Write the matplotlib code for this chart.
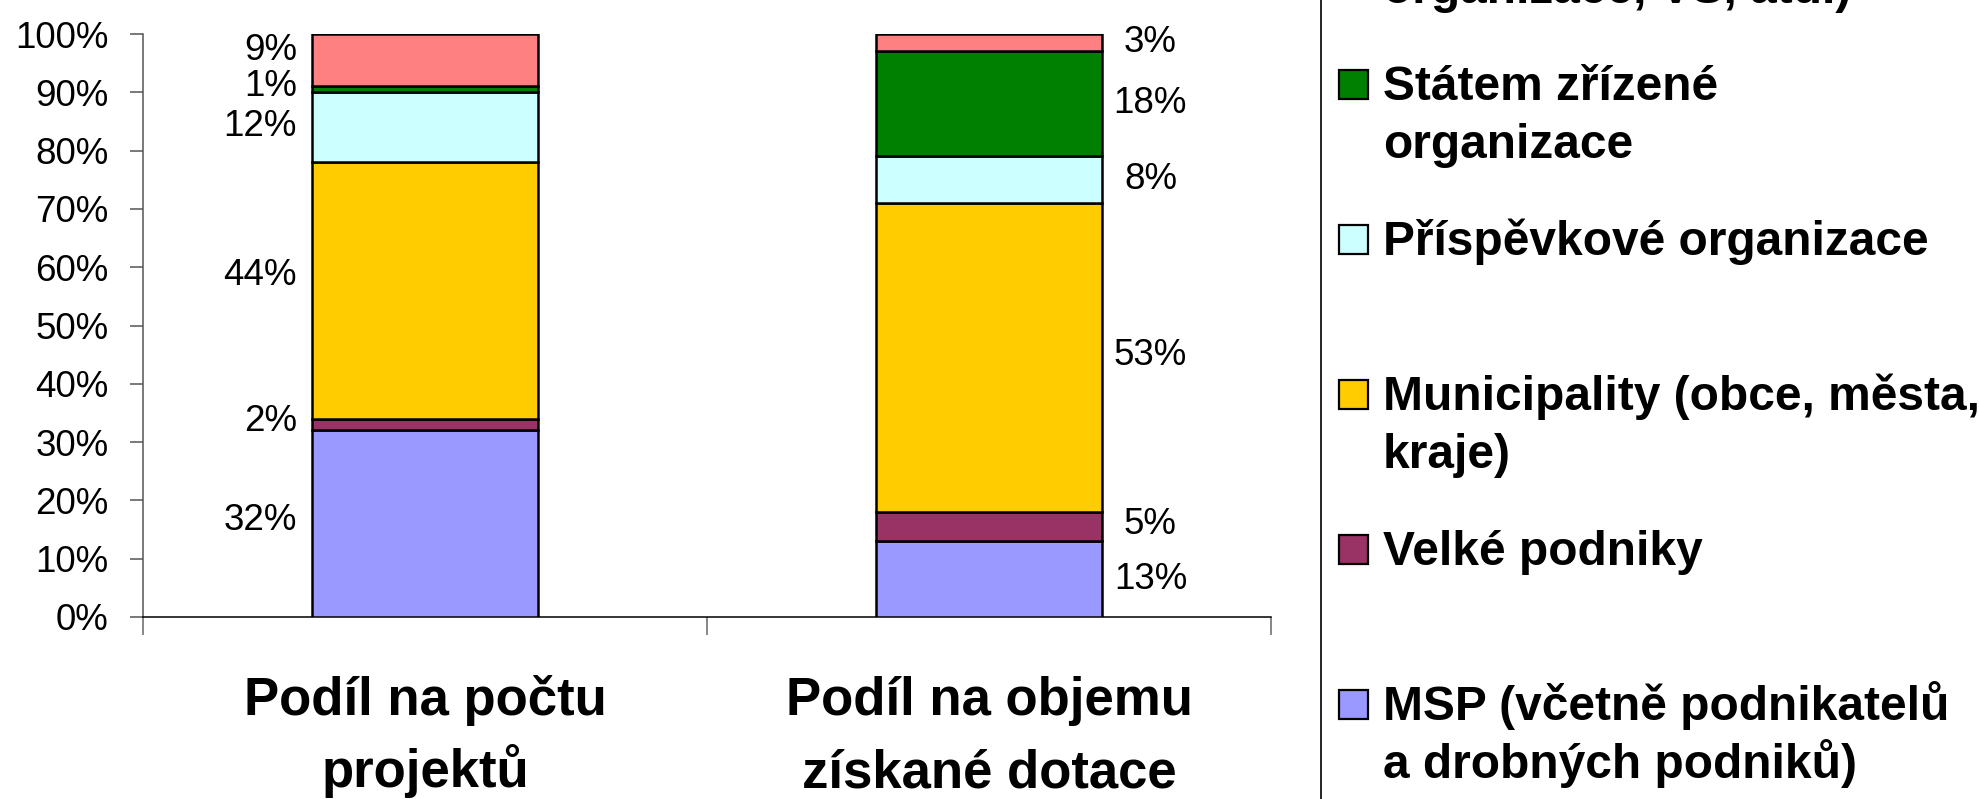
import matplotlib
matplotlib.use("Agg")
import matplotlib.pyplot as plt
from matplotlib.patches import Rectangle

plt.rcParams['font.family'] = ['Liberation Sans', 'DejaVu Sans']

# data
categories = ["Podíl na počtu\nprojektů", "Podíl na objemu\nzískané dotace"]
series_names = ["MSP (včetně podnikatelů\na drobných podniků)",
                "Velké podniky",
                "Municipality (obce, města,\nkraje)",
                "Příspěvkové organizace",
                "Státem zřízené\norganizace",
                "Ostatní (neziskové\norganizace, VŠ, atd.)"]
msp = [32, 13]
velke = [2, 5]
municipality = [44, 53]
prispevkove = [12, 8]
statem = [1, 18]
ostatni = [9, 3]
values = [msp, velke, municipality, prispevkove, statem, ostatni]
colors = ["#9999FF", "#993366", "#FFCC00", "#CCFFFF", "#008000", "#FF8080"]
# small vertical nudges for labels (in % points), per bar
label_nudge = [[0.5, 0.5, 2.5, 0.2, 0.5, 1.6],
               [0.0, 0.3, 0.4, 0.1, 0.1, 0.1]]

W, H = 1979, 799
fig = plt.figure(figsize=(W / 100, H / 100), dpi=100)
ax = fig.add_axes([143 / W, 1 - 617 / H, (1271 - 143) / W, (617 - 34) / H])

x = [0, 1]
bw = 0.40
bottoms = [0, 0]
for si, vals in enumerate(values):
    ax.bar(x, vals, bw, bottom=bottoms, color=colors[si], edgecolor='black',
           linewidth=1.8, zorder=3)
    for i in range(len(x)):
        yc = bottoms[i] + vals[i] / 2 + label_nudge[i][si]
        if i == 0:
            ax.annotate(f"{vals[i]}%", xy=(x[i] - bw / 2, yc), xytext=(-11, 0),
                        textcoords='offset points', ha='right', va='center',
                        fontsize=26.5)
        else:
            ax.annotate(f"{vals[i]}%", xy=(x[i] + bw / 2, yc), xytext=(35, 0),
                        textcoords='offset points', ha='center', va='center',
                        fontsize=26.5)
    bottoms = [b + v for b, v in zip(bottoms, vals)]

ax.set_xlim(-0.5, 1.5)
ax.set_ylim(0, 100)
ax.set_yticks(range(0, 101, 10))
ax.set_yticklabels([f"{v}%" for v in range(0, 101, 10)])
ax.tick_params(axis='y', direction='out', length=9.4, width=1.1, color='#555555',
               pad=15.5, labelsize=26.5)
ax.set_xticks([-0.5, 0.5, 1.5])
ax.set_xticklabels([])
ax.tick_params(axis='x', direction='out', length=13, width=1.1, color='#666666')
for s in ['top', 'right']:
    ax.spines[s].set_visible(False)
ax.spines['left'].set_color('#555555')
ax.spines['left'].set_linewidth(1.1)
ax.spines['bottom'].set_color('black')
ax.spines['bottom'].set_linewidth(1.1)

# category labels, line by line
for i, cat in enumerate(categories):
    for j, line in enumerate(cat.split("\n")):
        ax.annotate(line, xy=(x[i], 0), xycoords=('data', 'axes fraction'),
                    xytext=(0, -(98 + 72 * j) * 0.72), textcoords='offset points',
                    ha='center', va='baseline', fontsize=38, fontweight='bold')

# legend drawn by hand (box is partly outside the picture)
fig.patches.append(Rectangle((1321 / W, -0.5), 1.0, 2.0, transform=fig.transFigure,
                             fill=False, edgecolor='black', linewidth=1.2))
for k, (name, col) in enumerate(zip(series_names, colors)):
    base = 720 - 155 * k
    fig.patches.append(Rectangle((1339 / W, 1 - (base - 1) / H), 29 / W, 29 / H,
                                 transform=fig.transFigure, facecolor=col,
                                 edgecolor='black', linewidth=1.6))
    for j, line in enumerate(name.split("\n")):
        fig.text(1383 / W, 1 - (base + 58 * j) / H, line, ha='left', va='baseline',
                 fontsize=34.5, fontweight='bold')

fig.savefig("out.png", dpi=100)
